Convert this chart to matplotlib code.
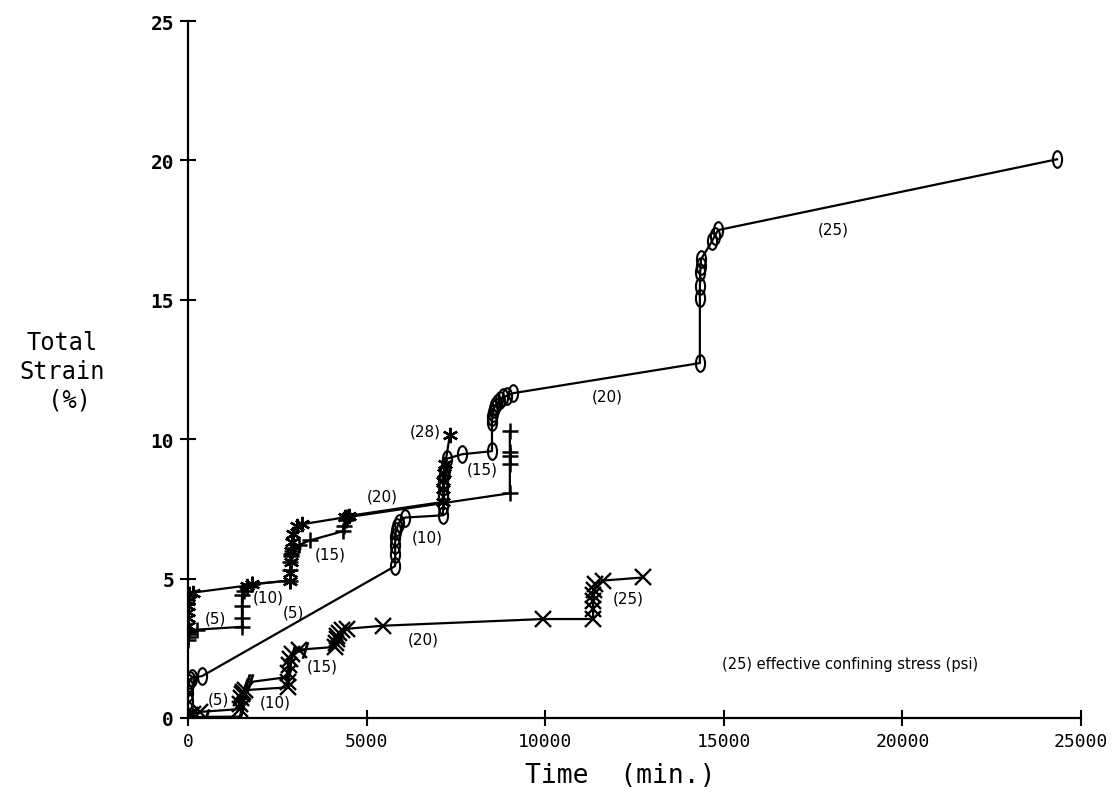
import matplotlib
matplotlib.use("Agg")
import matplotlib.pyplot as plt
from matplotlib.path import Path
from matplotlib.transforms import Affine2D

# creep records, time (min) vs total strain (%), one list pair per specimen
sq_t = [0, 0, 0, 0, 0, 30, 60, 100, 390,
        5800, 5800, 5800, 5800, 5820, 5860, 5900, 6080,
        7140, 7140, 7140, 7140, 7150, 7170, 7200, 7250, 7670,
        8510, 8510, 8520, 8540, 8560, 8600, 8660, 8740, 8820, 8920, 9100,
        14330, 14330, 14330, 14340, 14350, 14360, 14670, 14750, 14840,
        24330]
sq_e = [0, 0.3, 0.6, 0.9, 1.1, 1.25, 1.35, 1.45, 1.5,
        5.45, 5.9, 6.2, 6.5, 6.7, 6.85, 7.0, 7.19,
        7.27, 7.6, 8.0, 8.3, 8.5, 8.7, 8.9, 9.3, 9.46,
        9.57, 10.6, 10.8, 10.95, 11.1, 11.2, 11.3, 11.4, 11.5, 11.55, 11.65,
        12.73, 15.07, 15.5, 16.0, 16.2, 16.45, 17.1, 17.3, 17.5,
        20.04]

pl_t = [0, 0, 0, 0, 20, 250, 1510, 1510, 1510, 1510, 1560, 1650, 1800,
        2860, 2860, 2860, 2870, 2880, 2900, 2950, 3100, 3410, 4340,
        4380, 4420, 4450, 9010, 9010, 9010, 9010, 9010]
pl_e = [2.8, 2.9, 3.0, 3.1, 3.15, 3.17, 3.27, 3.6, 4.0, 4.4, 4.55, 4.7, 4.8,
        4.93, 5.3, 5.6, 5.8, 5.9, 6.0, 6.1, 6.2, 6.37, 6.7,
        6.9, 7.1, 7.2, 8.06, 9.1, 9.4, 9.55, 10.3]

st_t = [0, 0, 0, 0, 0, 0, 30, 150, 1650, 1800,
        2860, 2860, 2870, 2880, 2900, 2950, 3050, 3200, 4400, 4500,
        7140, 7140, 7150, 7170, 7200, 7330]
st_e = [3.3, 3.6, 3.8, 4.0, 4.2, 4.35, 4.45, 4.5, 4.75, 4.8,
        4.93, 5.2, 5.6, 6.0, 6.3, 6.6, 6.87, 6.95, 7.2, 7.25,
        7.75, 8.2, 8.5, 8.8, 9.1, 10.14]

xl_t = [0, 20, 60, 150, 340, 1450, 1450, 1470, 1500, 1530, 1600,
        2800, 2800, 2810, 2830, 2860, 2900, 3100, 4120,
        4150, 4160, 4180, 4220, 4300, 4450, 5460, 9950,
        11340, 11340, 11340, 11350, 11370, 11400, 11620, 12740]
xl_e = [0, 0.05, 0.1, 0.15, 0.22, 0.32, 0.5, 0.7, 0.85, 0.95, 1.0,
        1.1, 1.3, 1.6, 1.9, 2.1, 2.3, 2.45, 2.55,
        2.7, 2.85, 2.95, 3.05, 3.15, 3.2, 3.31, 3.55,
        3.55, 3.9, 4.2, 4.4, 4.6, 4.8, 4.93, 5.04]

sl_t = [0, 100, 500, 1450, 1500, 1520, 1560, 1600, 1650, 1740, 2800,
        2800, 2820, 2850, 2900, 3280]
sl_e = [0.02, 0.03, 0.04, 0.05, 0.3, 0.6, 0.9, 1.15, 1.3, 1.29, 1.47,
        1.7, 1.9, 2.1, 2.3, 2.45]

# stage labels: confining stress in psi
lbl_text = ["(25)", "(20)", "(28)", "(15)", "(20)", "(10)", "(15)", "(10)",
            "(5)", "(5)", "(20)", "(15)", "(10)", "(5)", "(25)"]
lbl_t = [18060, 11730, 6630, 8230, 5430, 6690, 3980, 2240,
         2940, 760, 6580, 3750, 2440, 840, 12320]
lbl_e = [17.55, 11.55, 10.29, 8.92, 7.95, 6.51, 5.9, 4.35,
         3.81, 3.6, 2.84, 1.87, 0.58, 0.68, 4.32]

W, H = 1116, 803
fig = plt.figure(figsize=(W / 100, H / 100), dpi=100)
ax = fig.add_axes([188 / W, 1 - 719 / H, (1081 - 188) / W, (719 - 22) / H])
ax.set_xlim(0, 25000)
ax.set_ylim(0, 25)

# tall rounded "0" shaped marker
oval = Affine2D().scale(0.55, 1.0).transform_path(Path.unit_circle())

lw = 1.6
ax.plot(sq_t, sq_e, color="black", lw=lw, marker=oval, ms=12,
        mfc="none", mec="black", mew=1.5, zorder=3)
ax.plot(pl_t, pl_e, color="black", lw=lw, marker="+", ms=12, mew=1.8,
        zorder=3)
ax.plot(st_t, st_e, color="black", lw=lw, marker=(6, 2, 0), ms=11,
        mew=1.7, zorder=3)
ax.plot(xl_t, xl_e, color="black", lw=lw, marker="x", ms=11, mew=1.7,
        zorder=3)
ax.plot(sl_t, sl_e, color="black", lw=lw, marker=r"$/$", ms=11, mew=0.9,
        zorder=3)

for s, t, e in zip(lbl_text, lbl_t, lbl_e):
    ax.text(t, e, s, fontsize=11, ha="center", va="center",
            family="DejaVu Sans")

ax.text(14950, 1.95, "(25) effective confining stress (psi)", fontsize=10.5,
        ha="left", va="center", family="DejaVu Sans")

for side in ("top", "right"):
    ax.spines[side].set_visible(False)
for side in ("left", "bottom"):
    ax.spines[side].set_linewidth(1.6)

ax.set_xticks([0, 5000, 10000, 15000, 20000, 25000])
ax.set_yticks([0, 5, 10, 15, 20, 25])
ax.tick_params(direction="inout", length=12, width=1.5, pad=4)
for lab in ax.get_xticklabels():
    lab.set_family("DejaVu Sans Mono")
    lab.set_fontsize(13)
for lab in ax.get_yticklabels():
    lab.set_family("DejaVu Sans Mono")
    lab.set_fontsize(14)
    lab.set_fontweight("bold")

fig.text(620 / W, 1 - 776 / H, "Time  (min.)", family="DejaVu Sans Mono",
         fontsize=19, ha="center", va="center")
fig.text(62 / W, 1 - 372 / H, "Total\nStrain\n (%)", family="DejaVu Sans Mono",
         fontsize=17, ha="center", va="center", linespacing=1.25)

fig.savefig("out.png", dpi=100)
